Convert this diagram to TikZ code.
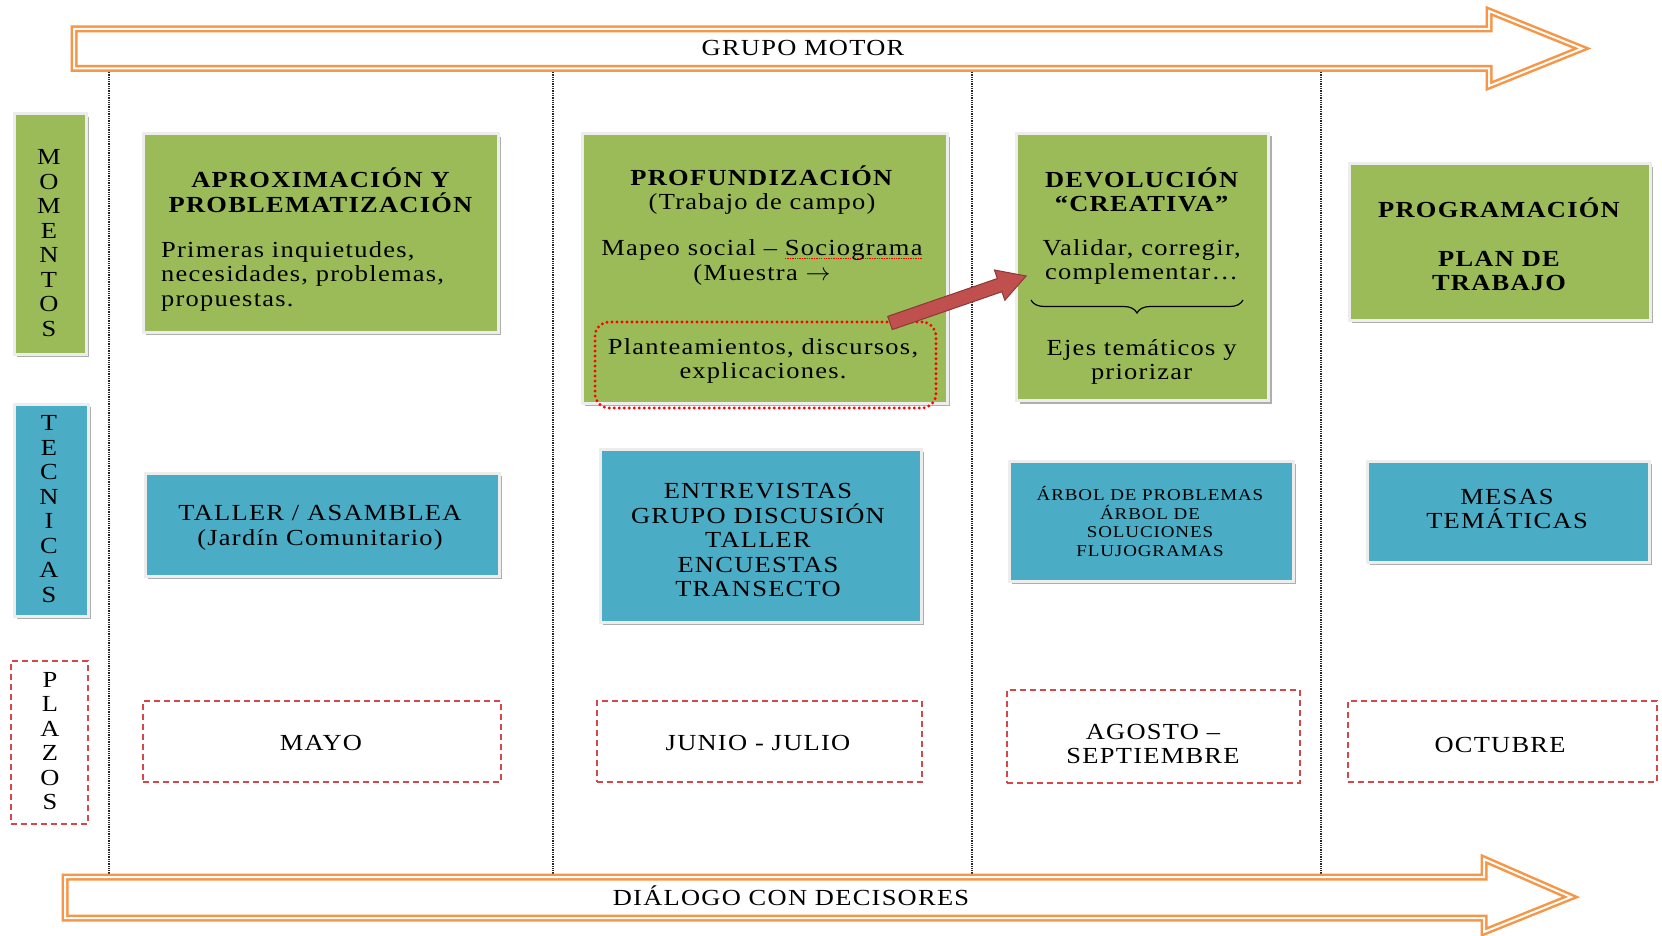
\documentclass[tikz,border=0pt]{standalone}
\usepackage{fontspec}
\setmainfont{Liberation Serif}[FakeStretch=1.15, LetterSpace=5.5]
\usetikzlibrary{shadows, decorations.pathreplacing}
\definecolor{mgreen}{HTML}{9BBB59}
\definecolor{mblue}{HTML}{4BACC6}
\definecolor{morange}{HTML}{F79646}
\definecolor{mred}{HTML}{C0504D}
\definecolor{mdred}{HTML}{8C3836}
\definecolor{dred}{HTML}{D2494B}
\newsavebox\spbox
\newcommand\spellerr[1]{\sbox\spbox{#1}\rlap{\textcolor{red}{\hbox to \wd\spbox{\xleaders\hbox{\rule[-3.5pt]{1.4pt}{1pt}\kern1pt}\hfill}}}\usebox\spbox}
\tikzset{
  greenbox/.style={fill=mgreen, draw=black!7, line width=3pt, inner sep=0pt,
    drop shadow={shadow xshift=3pt, shadow yshift=-3pt, fill=black!45, opacity=0.7}},
  bluebox/.style={greenbox, fill=mblue},
  datebox/.style={draw=dred, line width=1.3pt, dash pattern=on 6pt off 4pt, inner sep=0pt},
  dotbox/.style={draw=red, line width=3.2pt, dash pattern=on 0pt off 5pt, line cap=round, rounded corners=14pt, inner sep=0pt},
  txt/.style={font=\fontsize{23}{24.5}\selectfont, align=center, inner sep=0pt},
  ttl/.style={font=\fontsize{23}{24.5}\selectfont\bfseries, align=center, inner sep=0pt},
  small/.style={font=\fontsize{16.5}{18.5}\selectfont, align=center, inner sep=0pt},
  sepline/.style={line width=2pt, dash pattern=on 1.3pt off 1pt, black!85},
  bigarrow/.style={draw=morange, double=white, double distance=2pt, line width=2.5pt, line join=miter},
}
\begin{document}
\begin{tikzpicture}[x=1pt, y=-1pt]
\useasboundingbox (0,0) rectangle (1662,936);
\fill[white] (0,0) rectangle (1662,936);

% column separators
\draw[sepline] (109,72) -- (109,877);
\draw[sepline] (553,72) -- (553,877);
\draw[sepline] (972,72) -- (972,877);
\draw[sepline] (1321,72) -- (1321,877);

% top arrow
\fill[white] (74,29) -- (1489,29) -- (1489,11) -- (1582,48.5) -- (1489,86) -- (1489,68.5) -- (74,68.5) -- cycle;
\draw[bigarrow] (74,29) -- (1489,29) -- (1489,11) -- (1582,48.5) -- (1489,86) -- (1489,68.5) -- (74,68.5) -- cycle;
\node[txt] (gm) at (803,48.5) {GRUPO MOTOR};

% bottom arrow
\fill[white] (65,877) -- (1484,877) -- (1484,859) -- (1571,897) -- (1484,932) -- (1484,918) -- (65,918) -- cycle;
\draw[bigarrow] (65,877) -- (1484,877) -- (1484,859) -- (1571,897) -- (1484,932) -- (1484,918) -- (65,918) -- cycle;
\node[txt] (dd) at (791,896) {DIÁLOGO CON DECISORES};

% left labels
\node[greenbox, minimum width=72pt, minimum height=240pt] (momb) at (50,234) {};
\node[txt] (momt) at (49,243) {M\\O\\M\\E\\N\\T\\O\\S};
\node[bluebox, minimum width=74pt, minimum height=212pt] (tecb) at (51,510) {};
\node[txt] (tect) at (49,509) {T\\E\\C\\N\\I\\C\\A\\S};
\node[datebox, minimum width=77pt, minimum height=163pt] (plab) at (49.5,742.5) {};
\node[txt] (plat) at (50,741) {P\\L\\A\\Z\\O\\S};

% column 1
\node[greenbox, minimum width=355pt, minimum height=198pt] (g1) at (320.5,233) {};
\node[ttl] (g1t) at (320.5,190) {APROXIMACIÓN Y\\PROBLEMATIZACIÓN};
\node[txt, align=left, anchor=west] (g1b) at (161,276) {Primeras inquietudes,\\necesidades, problemas,\\propuestas.};
\node[bluebox, minimum width=354pt, minimum height=103pt] (b1) at (322,524.5) {};
\node[txt] (b1t) at (320,528) {TALLER / ASAMBLEA\\(Jardín Comunitario)};
\node[datebox, minimum width=358pt, minimum height=81pt] (d1) at (322,741.5) {};
\node[txt] (d1t) at (321,743) {MAYO};

% column 2
\node[greenbox, minimum width=365pt, minimum height=269pt] (g2) at (764.5,268.5) {};
\node[txt] (g2t) at (762,190) {\textbf{PROFUNDIZACIÓN}\\(Trabajo de campo)};
\node[txt, font=\fontsize{23}{25.5}\selectfont] (g2m) at (762,262.5) {Mapeo social – \spellerr{Sociograma}\\(Muestra $\rightarrow$};
\node[dotbox, minimum width=341pt, minimum height=86pt] (dz) at (765.5,365) {};
\node[txt] (dzt) at (763,361) {Planteamientos, discursos,\\explicaciones.};
\node[bluebox, minimum width=321pt, minimum height=173pt] (b2) at (760.5,535.5) {};
\node[txt] (b2t) at (758,540) {ENTREVISTAS\\GRUPO DISCUSIÓN\\TALLER\\ENCUESTAS\\TRANSECTO};
\node[datebox, minimum width=325pt, minimum height=81pt] (d2) at (759.5,741.5) {};
\node[txt] (d2t) at (758,743) {JUNIO - JULIO};

% column 3
\node[greenbox, minimum width=252pt, minimum height=267pt] (g3) at (1142.7,267) {};
\node[ttl] (g3t) at (1141.6,190) {DEVOLUCIÓN\\“CREATIVA”};
\node[txt] (g3m) at (1141.6,262) {Validar, corregir,\\complementar…};
\draw[decorate, decoration={brace, amplitude=13pt}, line width=1.2pt] (1243,300) -- (1031,300);
\node[txt] (g3b) at (1141.6,362) {Ejes temáticos y\\priorizar};
\node[bluebox, minimum width=284pt, minimum height=120pt] (b3) at (1151,521) {};
\node[small] (b3t) at (1150,521.5) {ÁRBOL DE PROBLEMAS\\ÁRBOL DE\\SOLUCIONES\\FLUJOGRAMAS};
\node[datebox, minimum width=293pt, minimum height=93pt] (d3) at (1153.5,736.5) {};
\node[txt] (d3t) at (1153,744) {AGOSTO –\\SEPTIEMBRE};

% column 4
\node[greenbox, minimum width=301pt, minimum height=156pt] (g4) at (1499.7,242) {};
\node[ttl] (g4t) at (1499,244) {PROGRAMACIÓN\\[24.5pt]PLAN DE\\TRABAJO};
\node[bluebox, minimum width=282pt, minimum height=101pt] (b4) at (1508,511.5) {};
\node[txt] (b4t) at (1507,509) {MESAS\\TEMÁTICAS};
\node[datebox, minimum width=309pt, minimum height=81pt] (d4) at (1502.5,741.5) {};
\node[txt] (d4t) at (1500,745) {OCTUBRE};

% red block arrow
\coordinate (ta) at (890,323);
\begin{scope}[shift={(ta)}, rotate=19.06]
\filldraw[fill=mred, draw=mdred, line width=1pt, line join=miter]
  (0,-7) -- (116,-7) -- (116,-16) -- (144,0) -- (116,16) -- (116,7) -- (0,7) -- cycle;
\coordinate (tp) at (144,0);
\end{scope}
\end{tikzpicture}
\end{document}
